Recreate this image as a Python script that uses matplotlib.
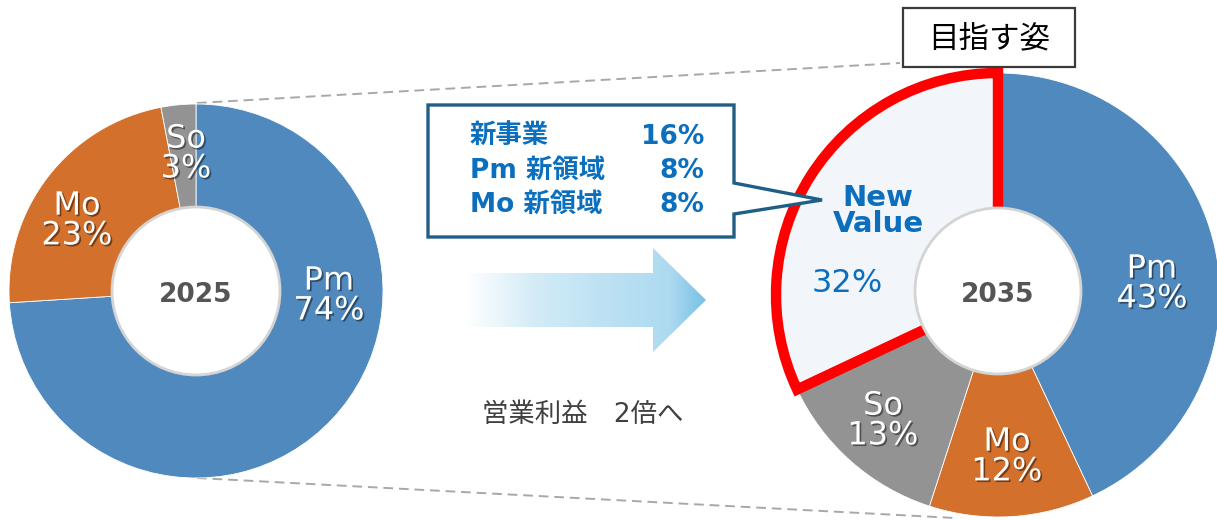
import matplotlib
matplotlib.use("Agg")
import matplotlib.pyplot as plt
import matplotlib.patheffects as pe
from matplotlib.patches import Circle, Rectangle, PathPatch
from matplotlib.path import Path
from matplotlib.colors import LinearSegmentedColormap
import numpy as np

plt.rcParams['font.family'] = ['DejaVu Sans', 'Noto Sans CJK JP']

# data
years = ["2025", "2035"]
labels_2025 = ["Pm", "Mo", "So"]
values_2025 = [74, 23, 3]
labels_2035 = ["Pm", "Mo", "So", "New\nValue"]
values_2035 = [43, 12, 13, 32]
breakdown_labels = ["新事業", "Pm 新領域", "Mo 新領域"]
breakdown_values = [16, 8, 8]
arrow_text = "営業利益　2倍へ"
target_text = "目指す姿"

W, H = 1217, 520
BLUE = "#4F89BD"
ORANGE = "#D2702C"
GRAY = "#939393"
TEXT_BLUE = "#0B6FBE"


def Y(py):
    # pixel row -> data y
    return H - py


fig = plt.figure(figsize=(W / 100, H / 100), dpi=100)
ax = fig.add_axes([0, 0, 1, 1])

shadow = [pe.SimplePatchShadow(offset=(1.2, -1.2), shadow_rgbFace="black", alpha=0.45),
          pe.Normal()]

# dashed guide lines between the two donuts
ax.plot([197, 900], [Y(103), Y(63)], ls=(0, (5, 3)), color="#A8A8A8", lw=1.4, zorder=0)
ax.plot([197, 955], [Y(478), Y(518)], ls=(0, (5, 3)), color="#A8A8A8", lw=1.4, zorder=0)

# left donut (2025)
c1, r1, hole1 = (196, Y(291)), 187, 84
ax.pie(values_2025, startangle=90, counterclock=False, center=c1, radius=r1,
       colors=[BLUE, ORANGE, GRAY], frame=True,
       wedgeprops=dict(edgecolor="white", linewidth=0.6))
ax.add_patch(Circle(c1, hole1, facecolor="white", edgecolor="#D4D4D4", lw=2, zorder=5))
ax.text(c1[0], c1[1] - 4, years[0], ha="center", va="center", fontsize=19,
        fontweight="bold", color="#555555", zorder=6)

pos_2025 = [(329, 296), (77, 221), (186, 154)]
for lab, val, (px, py) in zip(labels_2025, values_2025, pos_2025):
    ax.text(px, Y(py), f"{lab}\n{val}%", ha="center", va="center", fontsize=23,
            color="white", linespacing=0.95, path_effects=shadow, zorder=4)

# right donut (2035)
c2, r2, hole2 = (998, Y(295)), 222, 83
wedges, _ = ax.pie(values_2035, startangle=90, counterclock=False, center=c2, radius=r2,
                   colors=[BLUE, ORANGE, GRAY, "#F2F6FB"], frame=True,
                   wedgeprops=dict(edgecolor="white", linewidth=0.6))
nv = wedges[-1]
nv.set_edgecolor("#FF0000")
nv.set_linewidth(7.5)
nv.set_joinstyle("miter")
nv.set_zorder(3)
ax.add_patch(Circle((c2[0], Y(291)), hole2, facecolor="white", edgecolor="#D4D4D4",
                    lw=2, zorder=5))
ax.text(c2[0], Y(295), years[1], ha="center", va="center", fontsize=19,
        fontweight="bold", color="#555555", zorder=6)

pos_2035 = [(1152, 284), (1007, 457), (883, 421)]
for lab, val, (px, py) in zip(labels_2035[:3], values_2035[:3], pos_2035):
    ax.text(px, Y(py), f"{lab}\n{val}%", ha="center", va="center", fontsize=23,
            color="white", linespacing=0.95, path_effects=shadow, zorder=4)
ax.text(878, Y(211), labels_2035[3], ha="center", va="center", fontsize=21,
        fontweight="bold", color=TEXT_BLUE, linespacing=0.95, zorder=6)
ax.text(847, Y(284), f"{values_2035[3]}%", ha="center", va="center", fontsize=23,
        color=TEXT_BLUE, zorder=6)

# callout box with pointer
verts = [(428, Y(105)), (734, Y(105)), (734, Y(183)), (822, Y(200)), (734, Y(214)),
         (734, Y(237)), (428, Y(237)), (428, Y(105))]
codes = [Path.MOVETO] + [Path.LINETO] * 6 + [Path.CLOSEPOLY]
ax.add_patch(PathPatch(Path(verts, codes), facecolor="white", edgecolor="#1F5F85",
                       lw=2.4, joinstyle="miter", zorder=7))
for i, (lab, val) in enumerate(zip(breakdown_labels, breakdown_values)):
    yy = Y(137 + i * 34)
    ax.text(470, yy, lab, ha="left", va="center", fontsize=19, fontweight="bold",
            color=TEXT_BLUE, zorder=8)
    ax.text(704, yy, f"{val}%", ha="right", va="center", fontsize=19,
            fontweight="bold", color=TEXT_BLUE, zorder=8)

# gradient arrow
arrow_verts = [(465, Y(273)), (653, Y(273)), (653, Y(248)), (706, Y(300)),
               (653, Y(352)), (653, Y(327)), (465, Y(327)), (465, Y(273))]
arrow_path = Path(arrow_verts, [Path.MOVETO] + [Path.LINETO] * 6 + [Path.CLOSEPOLY])
arrow_patch = PathPatch(arrow_path, facecolor="none", edgecolor="none")
ax.add_patch(arrow_patch)
cmap = LinearSegmentedColormap.from_list(
    "arr", [(0, "#FFFFFF"), (0.3, "#D2EBF7"), (0.6, "#BBE1F3"), (0.85, "#ADDAF0"), (1, "#78C1E5")])
grad = np.linspace(0, 1, 256).reshape(1, -1)
im = ax.imshow(grad, cmap=cmap, extent=(465, 706, Y(352), Y(248)), aspect="auto", zorder=2)
im.set_clip_path(arrow_patch)

ax.text(583, Y(415), arrow_text, ha="center", va="center", fontsize=19,
        color="#404040", zorder=6)

# target label box
ax.add_patch(Rectangle((903, Y(67)), 172, 59, facecolor="white", edgecolor="#3A3A3A",
                       lw=1.6, zorder=8))
ax.text(989, Y(39), target_text, ha="center", va="center", fontsize=22,
        color="black", zorder=9)

ax.set_xlim(0, W)
ax.set_ylim(0, H)
ax.set_aspect("auto")
ax.axis("off")

fig.savefig("out.png", dpi=100, facecolor="white")
